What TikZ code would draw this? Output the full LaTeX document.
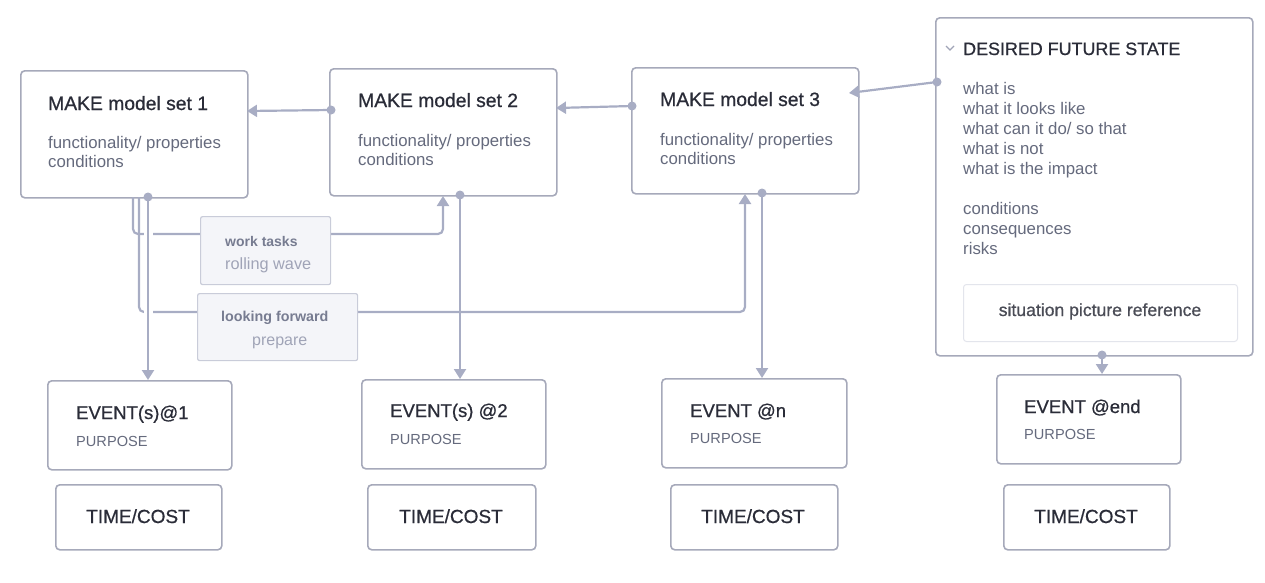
\documentclass[tikz,border=0pt]{standalone}
\usepackage{fontspec}
\setmainfont{Liberation Sans}
\newfontfamily\medfont[FakeBold=0.7]{Liberation Sans}
\usetikzlibrary{arrows.meta}
\definecolor{edgec}{HTML}{A8ADC4}
\definecolor{borderc}{HTML}{A6A9BA}
\definecolor{darkc}{HTML}{2A2C38}
\definecolor{greyc}{HTML}{656A7D}
\definecolor{lblfill}{HTML}{F4F5F9}
\definecolor{lblborder}{HTML}{C9CCD9}
\definecolor{lbldark}{HTML}{777C91}
\definecolor{lbllight}{HTML}{A0A4B7}
\definecolor{innerb}{HTML}{E3E5EC}
\tikzset{
  boxshape/.style={draw=borderc, line width=1.6pt, rounded corners=4pt, fill=white, anchor=north west, inner sep=0pt},
  lblbox/.style={draw=lblborder, line width=1.2pt, rounded corners=2pt, fill=lblfill, anchor=north west, inner sep=0pt},
  conn/.style={draw=edgec, line width=2.2pt, rounded corners=5pt, -{Triangle[length=10pt,width=12pt]}},
  halo/.style={draw=white, line width=9pt},
  dotc/.style={circle, fill=edgec, inner sep=0pt, minimum size=9pt},
  ttl/.style={anchor=base west, inner sep=0pt, text=darkc, font=\medfont\fontsize{19.3}{22}\selectfont},
  body/.style={anchor=base west, inner sep=0pt, text=greyc, font=\fontsize{16.8}{19}\selectfont},
  evt/.style={anchor=base west, inner sep=0pt, text=darkc, font=\medfont\fontsize{18.5}{21}\selectfont},
  purp/.style={anchor=base west, inner sep=0pt, text=greyc, font=\fontsize{14.6}{17}\selectfont},
  tc/.style={anchor=base, inner sep=0pt, text=darkc, font=\medfont\fontsize{19}{22}\selectfont},
}
\begin{document}
\begin{tikzpicture}[x=1pt,y=-1pt]
\useasboundingbox (0,0) rectangle (1265,582);

% main boxes
\node[boxshape, minimum width=227pt, minimum height=127pt] (m1) at (20,70) {};
\node[boxshape, minimum width=227pt, minimum height=127pt] (m2) at (329,68) {};
\node[boxshape, minimum width=227pt, minimum height=126pt] (m3) at (631,67) {};
\node[boxshape, minimum width=317pt, minimum height=338pt] (dfs) at (935,17) {};
\node[draw=innerb, line width=1pt, rounded corners=3pt, anchor=north west, minimum width=274pt, minimum height=57pt, inner sep=0pt] (sit) at (963,284) {};

\node[boxshape, minimum width=184pt, minimum height=89pt] (e1) at (47,380) {};
\node[boxshape, minimum width=184pt, minimum height=89pt] (e2) at (361,379) {};
\node[boxshape, minimum width=185pt, minimum height=89pt] (e3) at (661,378) {};
\node[boxshape, minimum width=184pt, minimum height=89pt] (e4) at (996,374) {};

\node[boxshape, minimum width=166pt, minimum height=65pt] (t1) at (55,484) {};
\node[boxshape, minimum width=168pt, minimum height=65pt] (t2) at (367,484) {};
\node[boxshape, minimum width=167pt, minimum height=65pt] (t3) at (670,484) {};
\node[boxshape, minimum width=166pt, minimum height=65pt] (t4) at (1003,484) {};

% connector points
\coordinate (m1r) at (247,111);
\coordinate (m2l) at (331,110);
\coordinate (m2r) at (556,108);
\coordinate (m3l) at (632,106);
\coordinate (m3r) at (849,93);
\coordinate (dfsl) at (937,82);
\coordinate (m1ba) at (133,197);
\coordinate (m1bb) at (139,197);
\coordinate (m1bc) at (148,197);
\coordinate (m2in) at (443,196);
\coordinate (m3in) at (745,194);
\coordinate (m2b) at (460,195);
\coordinate (m3b) at (762,193);
\coordinate (dfsb) at (1102,355);
\coordinate (e1t) at (148,380);
\coordinate (e2t) at (460,379);
\coordinate (e3t) at (762,378);
\coordinate (e4t) at (1102,374);
\coordinate (h1) at (148,206);

% connectors
\draw[conn] (m2l) -- (m1r);
\draw[conn] (m3l) -- (m2r);
\draw[conn] (dfsl) -- (m3r);
\draw[conn] (m1ba) -- (133,234) -- (443,234) -- (m2in);
\draw[conn] (m1bb) -- (139,312) -- (745,312) -- (m3in);
\draw[halo] (h1) -- (148,372);
\draw[conn] (m1bc) -- (e1t);
\draw[conn] (m2b) -- (e2t);
\draw[conn] (m3b) -- (e3t);
\draw[conn] (dfsb) -- (e4t);
\node[dotc] (d1) at (m2l) {};
\node[dotc] (d2) at (m3l) {};
\node[dotc] (d3) at (dfsl) {};
\node[dotc] (d4) at (m1bc) {};
\node[dotc] (d5) at (m2b) {};
\node[dotc] (d6) at (m3b) {};
\node[dotc] (d7) at (dfsb) {};

% label boxes on lines
\node[lblbox, minimum width=130pt, minimum height=68pt] (wt) at (200,216) {};
\node[lblbox, minimum width=160pt, minimum height=67pt] (lf) at (197,293) {};
\node[anchor=base west, inner sep=0pt, text=lbldark, font=\bfseries\fontsize{14}{16}\selectfont] (wt1) at (225,246) {work tasks};
\node[anchor=base west, inner sep=0pt, text=lbllight, font=\fontsize{16.3}{18}\selectfont] (wt2) at (225,269) {rolling wave};
\node[anchor=base west, inner sep=0pt, text=lbldark, font=\bfseries\fontsize{14.3}{16}\selectfont] (lf1) at (221,321) {looking forward};
\node[anchor=base west, inner sep=0pt, text=lbllight, font=\fontsize{16}{18}\selectfont] (lf2) at (252,345) {prepare};

% texts in main boxes
\node[ttl] (m1t) at (48,110) {MAKE model set 1};
\node[body] (m1a) at (48,148) {functionality/ properties};
\node[body] (m1b) at (48,167) {conditions};
\node[ttl] (m2t) at (358,107) {MAKE model set 2};
\node[body] (m2a) at (358,146) {functionality/ properties};
\node[body] (m2c) at (358,165) {conditions};
\node[ttl] (m3t) at (660,106) {MAKE model set 3};
\node[body] (m3a) at (660,145) {functionality/ properties};
\node[body] (m3c) at (660,164) {conditions};

% DFS
\draw[draw=lbllight, line width=1.2pt] (946,46) -- (950,50) -- (954,46);
\node[ttl, font=\medfont\fontsize{17.9}{20}\selectfont] (dft) at (963,55) {DESIRED FUTURE STATE};
\node[body] (q1) at (963,94) {what is};
\node[body] (q2) at (963,114) {what it looks like};
\node[body] (q3) at (963,134) {what can it do/ so that};
\node[body] (q4) at (963,154) {what is not};
\node[body] (q5) at (963,174) {what is the impact};
\node[body] (q6) at (963,214) {conditions};
\node[body] (q7) at (963,234) {consequences};
\node[body] (q8) at (963,254) {risks};
\node[anchor=base, inner sep=0pt, text=darkc!85, font=\medfont\fontsize{17.6}{20}\selectfont] (sitt) at (1100,316) {situation picture reference};

% events
\node[evt] (e1a) at (76,419) {EVENT(s)@1};
\node[purp] (e1b) at (76,446) {PURPOSE};
\node[evt] (e2a) at (390,417) {EVENT(s) @2};
\node[purp] (e2b) at (390,444) {PURPOSE};
\node[evt] (e3a) at (690,417) {EVENT @n};
\node[purp] (e3b) at (690,443) {PURPOSE};
\node[evt] (e4a) at (1024,413) {EVENT @end};
\node[purp] (e4b) at (1024,439) {PURPOSE};

% time/cost
\node[tc] (t1t) at (138,523) {TIME/COST};
\node[tc] (t2t) at (451,523) {TIME/COST};
\node[tc] (t3t) at (753,523) {TIME/COST};
\node[tc] (t4t) at (1086,523) {TIME/COST};
\end{tikzpicture}
\end{document}
